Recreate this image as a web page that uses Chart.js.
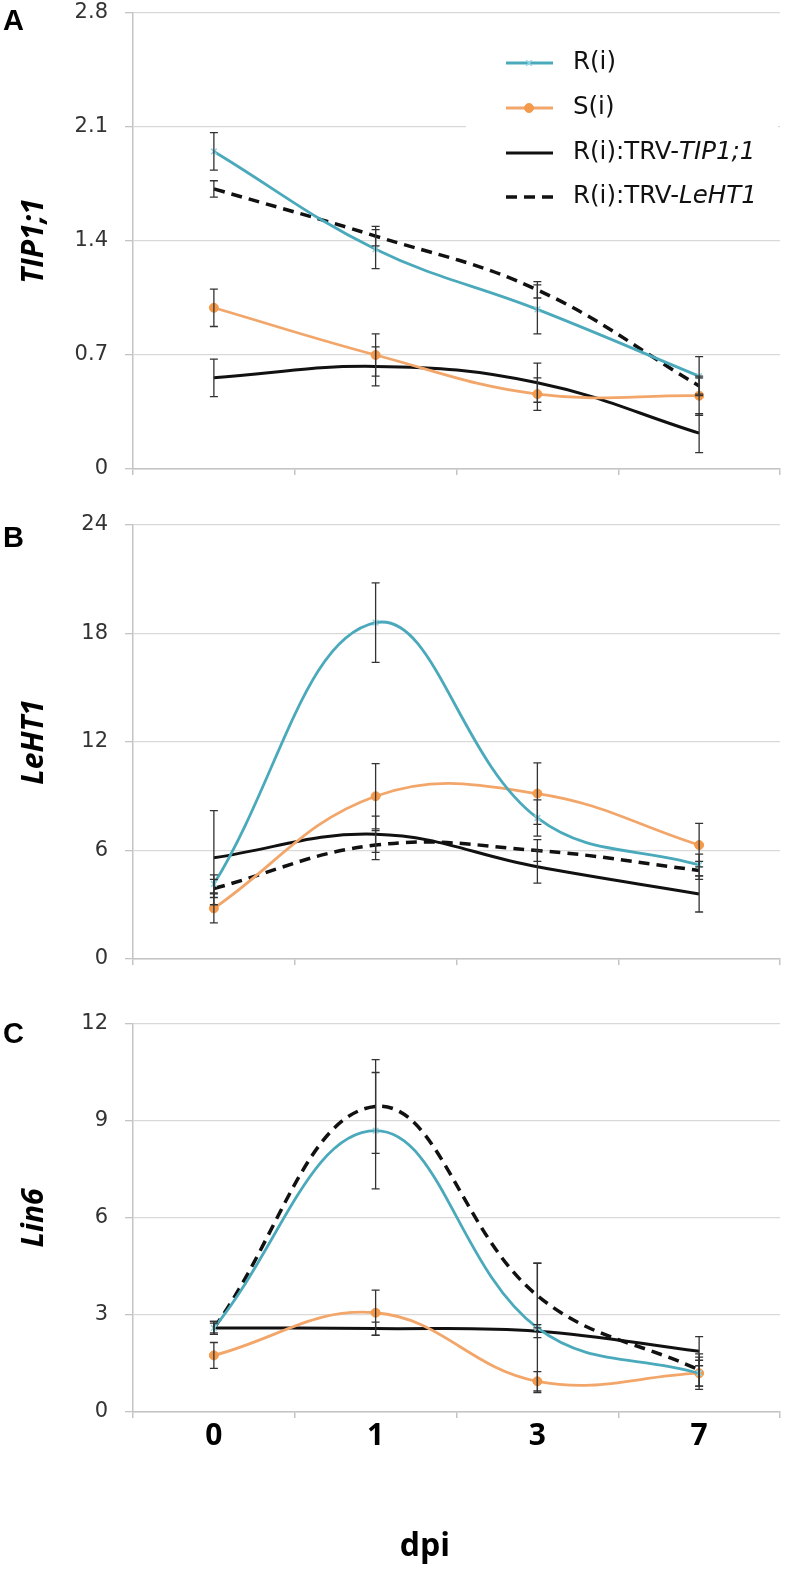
<!DOCTYPE html>
<html>
<head>
<meta charset="utf-8">
<title>TIP1;1, LeHT1 and Lin6 expression</title>
<script src="https://cdn.jsdelivr.net/npm/chart.js@4.4.1/dist/chart.umd.min.js"></script>
<style>
  html, body { margin: 0; padding: 0; background: #fff; }
  #fig { position: relative; width: 793px; height: 1587px; overflow: hidden; }
  #fig canvas { position: absolute; left: 0; }
  .letter { position: absolute; left: 3px; font: bold 29px "Liberation Sans", Arial, sans-serif; line-height: 1; color: #000; }
  #dpi { position: absolute; left: 325px; width: 200px; top: 1528px; text-align: center;
         font: bold 32px "Open Sans", sans-serif; line-height: 1; color: #000; }
</style>
</head>
<body>
<div id="fig">
  <canvas id="chartA" width="793" height="516" style="top:-17px"></canvas>
  <canvas id="chartB" width="793" height="499" style="top:490px"></canvas>
  <canvas id="chartC" width="793" height="607" style="top:980px"></canvas>
  <div class="letter" style="top:6px">A</div>
  <div class="letter" style="top:523px">B</div>
  <div class="letter" style="top:1019px">C</div>
  <div id="dpi">dpi</div>
</div>

<script>
// x categories (days post inoculation)
var days = ['0', '1', '3', '7'];

// legend text: plain part + italic part
var seriesNames = ['R(i)', 'S(i)', 'R(i):TRV-', 'R(i):TRV-'];
var seriesItalic = ['', '', 'TIP1;1', 'LeHT1'];

// panel A - TIP1;1
var tipR = [1.95, 1.35, 0.98, 0.57];
var tipRErr = [0.115, 0.12, 0.15, 0.12];
var tipS = [0.99, 0.70, 0.46, 0.45];
var tipSErr = [0.115, 0.13, 0.10, 0.12];
var tipTrvTip = [0.56, 0.63, 0.53, 0.22];
var tipTrvTipErr = [0.115, 0.12, 0.12, 0.12];
var tipTrvLeht = [1.72, 1.43, 1.10, 0.51];
var tipTrvLehtErr = [0.05, 0.06, 0.05, 0.05];
var tipTicks = { max: 2.8, step: 0.7 };

// panel B - LeHT1
var lehtR = [4.15, 18.6, 7.8, 5.2];
var lehtRErr = [0.5, 2.2, 1.0, 0.6];
var lehtS = [2.8, 9.0, 9.15, 6.3];
var lehtSErr = [0.8, 1.8, 1.7, 1.2];
var lehtTrvTip = [5.6, 6.9, 5.1, 3.6];
var lehtTrvTipErr = [2.6, 1.0, 0.9, 1.0];
var lehtTrvLeht = [3.9, 6.3, 6.0, 4.9];
var lehtTrvLehtErr = [0.5, 0.8, 0.6, 0.5];
var lehtTicks = { max: 24, step: 6 };

// panel C - Lin6
var linR = [2.6, 8.7, 2.6, 1.2];
var linRErr = [0.2, 1.8, 2.0, 0.5];
var linS = [1.75, 3.07, 0.95, 1.2];
var linSErr = [0.4, 0.7, 0.3, 0.4];
var linTrvTip = [2.6, 2.58, 2.5, 1.88];
var linTrvTipErr = [0.2, 0.2, 0.2, 0.45];
var linTrvLeht = [2.6, 9.45, 3.6, 1.3];
var linTrvLehtErr = [0.15, 1.45, 1.0, 0.5];
var linTicks = { max: 12, step: 3 };

// line look of the four series
var seriesStyles = [
  { borderColor: '#4aa9bb', borderWidth: 2.8, pointStyle: 'crossRot', pointRadius: 4,
    pointBorderColor: '#8fd4e3', pointBackgroundColor: '#8fd4e3', pointBorderWidth: 1.5 },
  { borderColor: '#f2a66a', borderWidth: 2.8, pointStyle: 'circle', pointRadius: 4.5,
    pointBorderColor: '#f39a4c', pointBackgroundColor: '#f39a4c', pointBorderWidth: 1 },
  { borderColor: '#111', borderWidth: 3, pointRadius: 0 },
  { borderColor: '#111', borderWidth: 3.5, borderDash: [11, 7], pointRadius: 0 }
];

/**
 * Draws the vertical error bars from dataset.errors.
 */
var errorBars = {
  id: 'errorBars',
  afterDatasetsDraw: function (chart) {
    var ctx = chart.ctx;
    var y = chart.scales.y;
    ctx.save();
    ctx.strokeStyle = '#333';
    ctx.lineWidth = 1.3;
    chart.data.datasets.forEach(function (ds, i) {
      var meta = chart.getDatasetMeta(i);
      meta.data.forEach(function (pt, j) {
        var e = ds.errors[j];
        var top = y.getPixelForValue(ds.data[j] + e);
        var bot = y.getPixelForValue(ds.data[j] - e);
        ctx.beginPath();
        ctx.moveTo(pt.x, top); ctx.lineTo(pt.x, bot);
        ctx.moveTo(pt.x - 4, top); ctx.lineTo(pt.x + 4, top);
        ctx.moveTo(pt.x - 4, bot); ctx.lineTo(pt.x + 4, bot);
        ctx.stroke();
      });
    });
    ctx.restore();
  }
};

/**
 * Legend of panel A, with italic gene names.
 * Coordinates are canvas coords (canvas A starts 17px above the page).
 */
var geneLegend = {
  id: 'geneLegend',
  beforeDatasetsDraw: function (chart, args, opts) {
    if (!opts.show) return;
    chart.ctx.save();
    chart.ctx.fillStyle = '#fff';
    chart.ctx.fillRect(466, 32 + 17, 312, 192);
    chart.ctx.restore();
  },
  afterDraw: function (chart, args, opts) {
    if (!opts.show) return;
    var ctx = chart.ctx;
    var rows = [63, 108, 153, 197];
    ctx.save();
    ctx.textBaseline = 'middle';
    for (var i = 0; i < seriesNames.length; i++) {
      var st = seriesStyles[i];
      var ry = rows[i] + 17;
      ctx.strokeStyle = st.borderColor;
      ctx.lineWidth = st.borderWidth;
      ctx.setLineDash(st.borderDash || []);
      ctx.beginPath();
      ctx.moveTo(506, ry); ctx.lineTo(553, ry);
      ctx.stroke();
      ctx.setLineDash([]);
      if (st.pointRadius) {
        ctx.fillStyle = st.pointBackgroundColor;
        ctx.strokeStyle = st.pointBorderColor;
        ctx.lineWidth = st.pointBorderWidth;
        Chart.helpers.drawPoint(ctx, { pointStyle: st.pointStyle, radius: st.pointRadius,
          borderWidth: st.pointBorderWidth, rotation: 0 }, 529, ry);
      }
      ctx.fillStyle = '#111';
      ctx.font = '24.5px "DejaVu Sans"';
      ctx.fillText(seriesNames[i], 573, ry);
      var w = ctx.measureText(seriesNames[i]).width;
      if (seriesItalic[i]) {
        ctx.font = 'italic 24.5px "DejaVu Sans"';
        ctx.fillText(seriesItalic[i], 573 + w, ry);
      }
    }
    ctx.restore();
  }
};

function buildDatasets(values, errors) {
  return values.map(function (v, i) {
    return Object.assign({
      label: seriesNames[i] + seriesItalic[i],
      data: v,
      errors: errors[i],
      tension: 0.4,
      fill: false
    }, seriesStyles[i]);
  });
}

function makeChart(id, values, errors, ticks, yTitle, top, xHeight, showX, withLegend) {
  return new Chart(document.getElementById(id), {
    type: 'line',
    data: { labels: days, datasets: buildDatasets(values, errors) },
    plugins: [errorBars, geneLegend],
    options: {
      responsive: false,
      animation: false,
      layout: { padding: { left: 0, right: 13, top: top, bottom: 0 } },
      plugins: {
        legend: { display: false },
        tooltip: { enabled: false },
        geneLegend: { show: withLegend }
      },
      scales: {
        x: {
          offset: true,
          grid: { offset: true, drawOnChartArea: false, tickLength: 6, color: '#c4c4c4', lineWidth: 1.5 },
          border: { color: '#c4c4c4', width: 1.5 },
          ticks: { display: showX, padding: 2, color: '#000', maxRotation: 0,
                   font: { family: 'Open Sans', size: 30, weight: 'bold', lineHeight: 1.1 } },
          afterFit: function (s) { s.height = xHeight; }
        },
        y: {
          min: 0,
          max: ticks.max,
          ticks: {
            stepSize: ticks.step,
            padding: 17,
            color: '#333',
            font: { family: 'DejaVu Sans', size: 21 },
            callback: function (v) { return String(Math.round(v * 10) / 10); }
          },
          grid: { color: '#d9d9d9', lineWidth: 1.3, tickLength: 8, tickColor: '#c4c4c4' },
          border: { color: '#c4c4c4', width: 1.5 },
          title: {
            display: true,
            text: yTitle,
            color: '#000',
            padding: { top: 16 },
            font: { family: 'Open Sans', size: 30, weight: 'bold', style: 'italic', lineHeight: 1.2 }
          },
          afterFit: function (s) { s.width = 133; }
        }
      }
    }
  });
}

// canvas A sits 17px above the page, canvas B at 490, canvas C at 980
makeChart('chartA',
  [tipR, tipS, tipTrvTip, tipTrvLeht],
  [tipRErr, tipSErr, tipTrvTipErr, tipTrvLehtErr],
  tipTicks, 'TIP1;1', 30, 30, false, true);

makeChart('chartB',
  [lehtR, lehtS, lehtTrvTip, lehtTrvLeht],
  [lehtRErr, lehtSErr, lehtTrvTipErr, lehtTrvLehtErr],
  lehtTicks, 'LeHT1', 35, 30, false, false);

makeChart('chartC',
  [linR, linS, linTrvTip, linTrvLeht],
  [linRErr, linSErr, linTrvTipErr, linTrvLehtErr],
  linTicks, 'Lin6', 44, 175, true, false);
</script>
</body>
</html>
